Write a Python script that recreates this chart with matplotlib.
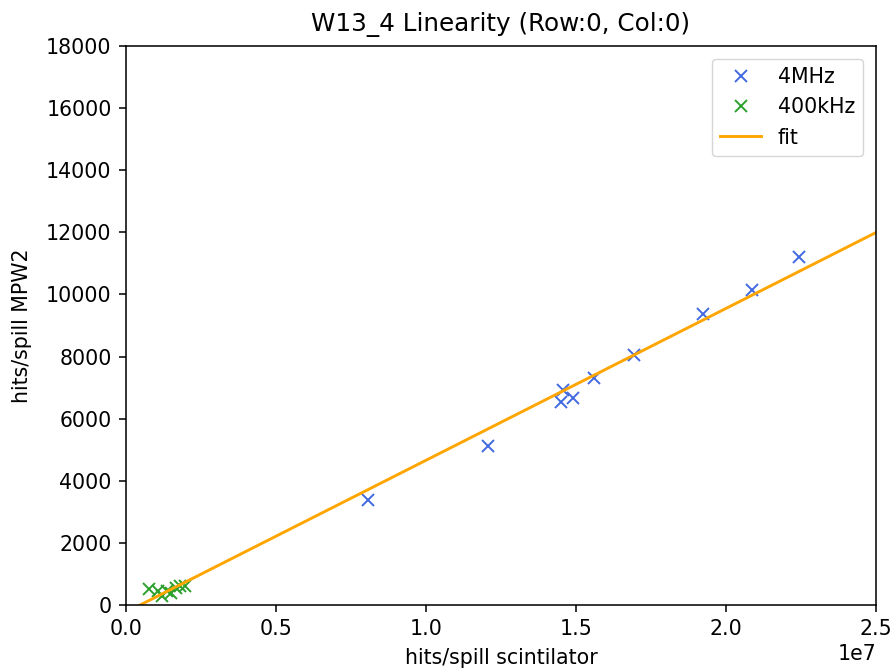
import numpy as np
import matplotlib
matplotlib.use("Agg")
import matplotlib.pyplot as plt

# 4MHz data
x_4mhz = [8.07e6, 12.07e6, 14.5e6, 14.57e6, 14.9e6, 15.6e6, 16.93e6, 19.23e6, 20.87e6, 22.43e6]
y_4mhz = [3380, 5120, 6540, 6920, 6670, 7310, 8050, 9370, 10140, 11200]
# 400kHz data
x_400khz = [0.75e6, 1.05e6, 1.2e6, 1.35e6, 1.5e6, 1.65e6, 1.8e6, 1.95e6]
y_400khz = [500, 450, 300, 450, 380, 550, 620, 620]
# linear fit parameters
fit_slope = 4.89e-4
fit_intercept = -230.0

s = 1.48
plt.rcParams['font.size'] = 10 * s

fig = plt.figure(figsize=(8.92, 6.69), dpi=100)
ax = fig.add_axes([126/892, 1 - 605/669, (876-126)/892, (605-46)/669])

ax.plot(x_4mhz, y_4mhz, 'x', color='royalblue', markersize=6*1.394, markeredgewidth=1.0*1.394, label='4MHz')
ax.plot(x_400khz, y_400khz, 'x', color='#2ca02c', markersize=6*1.394, markeredgewidth=1.0*1.394, label='400kHz')
xf = np.linspace(0, 2.5e7, 100)
ax.plot(xf, fit_slope * xf + fit_intercept, color='orange', linewidth=1.5*1.394, label='fit')

ax.set_xlim(0, 2.5e7)
ax.set_ylim(0, 18000)
ax.set_xlabel('hits/spill scintilator', labelpad=4*s)
ax.set_ylabel('hits/spill MPW2', labelpad=4*s + 4)
ax.set_title('W13_4 Linearity (Row:0, Col:0)', pad=6*s + 2)
for sp in ax.spines.values():
    sp.set_linewidth(0.8*1.394)
ax.tick_params(width=0.8*1.394, length=3.5*s, pad=3.5*s)
ax.legend(loc='upper right', borderaxespad=0.5*1.394*0.9)

fig.savefig('out.png', dpi=100)
